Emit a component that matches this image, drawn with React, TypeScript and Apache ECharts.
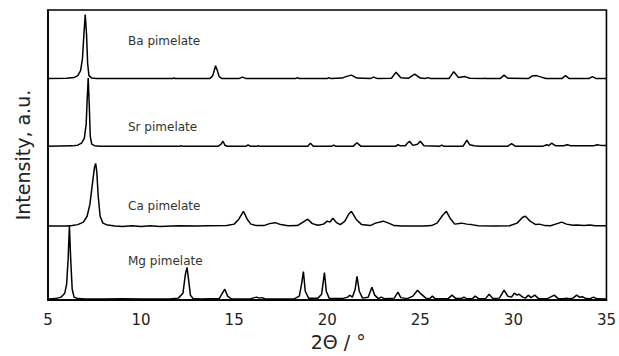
import React, { useEffect, useRef } from "react";
import * as echarts from "echarts";

// 2θ (degrees) vs relative intensity (arbitrary units)
const baPimelate: [number, number][] = [
  [5, 0], [6.0, 0.3], [6.4, 1], [6.6, 3], [6.75, 8], [6.85, 20], [6.93, 45], [7.0, 65], [7.07, 45], [7.13, 15], [7.2, 3], [7.35, 0.5], [7.6, 0],
  [9, 0], [11.7, 0], [11.76, 0.6], [11.82, 0], [13.7, 0], [13.85, 3], [14.0, 13], [14.1, 8], [14.2, 2], [14.35, 0],
  [15.25, 0], [15.45, 1.5], [15.65, 0], [18.3, 0], [18.4, 1], [18.5, 0], [20.0, 0], [20.08, 1], [20.2, 0],
  [20.8, 0.5], [21.0, 2], [21.3, 3.5], [21.6, 0.5], [22.3, 0], [22.5, 1.5], [22.7, 0], [23.45, 0.3], [23.7, 6.5], [23.95, 0.8],
  [24.35, 0.3], [24.7, 4.5], [25.0, 0.5], [25.25, 0], [25.4, 1], [25.55, 0], [26.55, 0.2], [26.8, 7], [27.05, 1], [27.4, 2],
  [27.65, 0.3], [28.4, 0], [28.45, 0.5], [28.5, 0], [29.3, 0.2], [29.5, 3.5], [29.7, 0.3], [30.8, 0], [31.0, 2.5], [31.25, 3],
  [31.5, 1.5], [31.75, 0], [32.6, 0], [32.8, 3], [33.0, 0], [34.05, 0], [34.25, 2], [34.45, 0], [35, 0],
];

const srPimelate: [number, number][] = [
  [5, 0], [6.3, 0.3], [6.6, 1], [6.8, 3], [6.95, 8], [7.05, 22], [7.1, 45], [7.16, 69], [7.22, 40], [7.27, 10], [7.35, 2], [7.5, 0.5], [7.8, 0],
  [12.1, 0], [12.15, 0.5], [12.2, 0], [14.15, 0], [14.3, 2], [14.4, 5], [14.5, 1], [14.65, 0], [15.65, 0], [15.75, 1.2], [15.85, 0],
  [16.25, 0], [16.3, 0.5], [16.35, 0], [18.95, 0], [19.1, 3], [19.25, 0], [20.25, 0], [20.35, 1], [20.45, 0], [21.4, 0], [21.6, 3.5], [21.8, 0],
  [23.7, 0], [23.8, 1.5], [23.9, 0.5], [24.2, 0.5], [24.3, 3], [24.42, 5], [24.6, 0.8], [24.85, 2], [25.0, 5], [25.2, 0.5],
  [26.05, 0], [26.15, 1], [26.25, 0], [27.3, 0], [27.5, 6], [27.65, 1.5], [27.9, 0.5], [28.2, 0], [29.7, 0], [29.9, 2.5], [30.1, 0],
  [31.6, 0], [31.8, 1.5], [31.9, 0.5], [32.05, 3], [32.25, 0.5], [32.7, 0.5], [32.9, 1.5], [33.1, 0.3], [34.3, 0.3], [34.5, 1.5], [34.7, 0.8], [35, 0.8],
];

const caPimelate: [number, number][] = [
  [5, 0], [6.0, 0], [6.3, 0.5], [6.6, 1.5], [6.9, 4], [7.1, 10], [7.25, 22], [7.4, 45], [7.5, 60], [7.56, 63.5], [7.62, 55], [7.7, 30], [7.8, 10],
  [7.95, 3], [8.2, 1], [8.6, 0], [9, -0.5], [9.5, 0.4], [10, -0.4], [10.5, 0.3], [11, -0.3], [12, 0.3], [13, 0], [13.5, 0.3],
  [14.6, 0.5], [15.0, 2], [15.25, 7], [15.5, 15], [15.7, 7], [15.9, 2], [16.2, 0.5], [16.6, 0.5], [16.9, 2.5], [17.2, 3.5], [17.5, 1.5],
  [17.9, 0.3], [18.4, 0.5], [18.7, 4], [18.95, 7], [19.2, 2.5], [19.5, 0.8], [19.8, 2], [20.0, 5], [20.15, 4], [20.3, 8], [20.5, 3.5],
  [20.7, 1.5], [20.95, 5], [21.15, 12], [21.3, 15], [21.55, 7], [21.85, 1.5], [22.3, 0.5], [22.6, 3], [23.0, 5], [23.3, 3], [23.6, 0.5],
  [24, 0], [25.2, 0], [25.6, 0.5], [25.9, 3], [26.2, 11], [26.4, 15], [26.6, 8], [26.85, 2], [27.2, 3], [27.5, 2], [27.75, 1.5], [28.1, 0.3],
  [29, 0], [29.8, 0.3], [30.2, 3], [30.5, 9], [30.65, 10], [30.9, 5], [31.2, 1.5], [31.4, 2], [31.7, 0.5], [32, 0.3], [32.35, 2.5],
  [32.6, 4], [32.85, 2], [33.2, 0.8], [33.4, 1], [33.8, 0.5], [34.1, 1], [34.4, 0.3], [35, 0.3],
];

const mgPimelate: [number, number][] = [
  [5, 0], [5.4, 0.5], [5.7, 2], [5.9, 6], [6.0, 15], [6.08, 40], [6.15, 74], [6.22, 40], [6.3, 10], [6.4, 2], [6.6, 0.5], [7, 0], [8, 0],
  [9, 0.3], [10, 0], [11.5, 0], [12.0, 1], [12.25, 6], [12.38, 25], [12.47, 32], [12.55, 20], [12.65, 4], [12.8, 0.5], [13.2, 0],
  [14.2, 0.5], [14.4, 7], [14.5, 10], [14.65, 3], [14.85, 0.3], [15.8, 0], [16.1, 1.5], [16.2, 2], [16.35, 1], [16.5, 1.5], [16.7, 0],
  [18.2, 0], [18.5, 3], [18.62, 15], [18.72, 28], [18.82, 8], [19.0, 1], [19.5, 1], [19.7, 5], [19.85, 27], [19.95, 8], [20.1, 1],
  [20.8, 0.5], [21.1, 2], [21.2, 4], [21.35, 2], [21.5, 10], [21.6, 23], [21.72, 8], [21.9, 1], [22.2, 2], [22.4, 12], [22.55, 4],
  [22.75, 0.5], [22.9, 2], [23.1, 0.3], [23.6, 1], [23.8, 7], [23.95, 1.5], [24.3, 0.5], [24.6, 3], [24.85, 9], [25.05, 5], [25.3, 1],
  [25.5, 0.3], [25.65, 3], [25.8, 0.3], [26.5, 0.5], [26.7, 4], [26.9, 0.8], [27.2, 0.5], [27.35, 2], [27.5, 0.3], [27.8, 0.5], [27.95, 3],
  [28.15, 0.3], [28.5, 0.5], [28.7, 5], [28.9, 0.5], [29.25, 1], [29.5, 9], [29.7, 3], [29.9, 2], [30.05, 6], [30.2, 4], [30.3, 5],
  [30.5, 2], [30.65, 1], [30.8, 4], [30.95, 1.5], [31.15, 4], [31.35, 0.5], [31.8, 0.3], [32.2, 4], [32.4, 0.5], [32.7, 0.3], [32.85, 1],
  [33.0, 0.3], [33.2, 1], [33.4, 4], [33.55, 2], [33.7, 2.5], [33.9, 0.5], [34.1, 0.3], [34.3, 2], [34.5, 0.3], [35, 0],
];

const seriesNames = ["Ba pimelate", "Sr pimelate", "Ca pimelate", "Mg pimelate"];
const seriesData = [baPimelate, srPimelate, caPimelate, mgPimelate];
// vertical stacking offsets (arbitrary units)
const stackOffsets = [224.5, 156, 75, 1];

const xTicks = [5, 10, 15, 20, 25, 30, 35];
const xMin = 5;
const xMax = 35;
const yMax = 294;

export default function App() {
  const ref = useRef<HTMLDivElement>(null);
  useEffect(() => {
    if (!ref.current) return;
    const chart = echarts.init(ref.current, undefined, { renderer: "svg" });
    const font = "'DejaVu Sans', sans-serif";
    const labelY = [42, 128, 207, 262];
    chart.setOption({
      animation: false,
      grid: {
        left: 48,
        right: 12,
        top: 10,
        bottom: 51,
        show: true,
        borderColor: "#000",
        borderWidth: 1.6,
      },
      xAxis: {
        type: "value",
        min: xMin,
        max: xMax,
        interval: 5,
        name: "2Θ / °",
        nameLocation: "middle",
        nameGap: 31,
        nameTextStyle: { fontSize: 19, color: "#222", fontFamily: font, padding: [0, 0, 0, 22] },
        axisLine: { show: true, onZero: false, lineStyle: { color: "#000", width: 1.6 } },
        axisTick: { show: false },
        splitLine: { show: false },
        axisLabel: {
          fontSize: 15,
          color: "#222",
          fontFamily: font,
          margin: 12,
          formatter: (v: number) => (xTicks.includes(v) ? String(v) : ""),
        },
      },
      yAxis: {
        type: "value",
        min: 0,
        max: yMax,
        name: "Intensity, a.u.",
        nameLocation: "middle",
        nameGap: 16,
        nameTextStyle: { fontSize: 19, color: "#222", fontFamily: font },
        axisLine: { show: true, lineStyle: { color: "#000", width: 1.6 } },
        axisTick: { show: false },
        axisLabel: { show: false },
        splitLine: { show: false },
      },
      series: seriesData.map((d, i) => ({
        name: seriesNames[i],
        type: "line",
        data: d.map(([x, y]) => [x, y + stackOffsets[i]]),
        showSymbol: false,
        symbol: "none",
        lineStyle: { color: "#000", width: 1.5 },
        z: 3,
      })),
      graphic: seriesNames.map((n, i) => ({
        type: "text",
        left: 128,
        top: labelY[i] - 7,
        style: { text: n, fontSize: 12, fill: "#333", fontFamily: font },
      })),
    });
    return () => chart.dispose();
  }, []);
  return (
    <div
      ref={ref}
      style={{ position: "absolute", left: 0, top: 0, width: 619, height: 356 }}
    />
  );
}
